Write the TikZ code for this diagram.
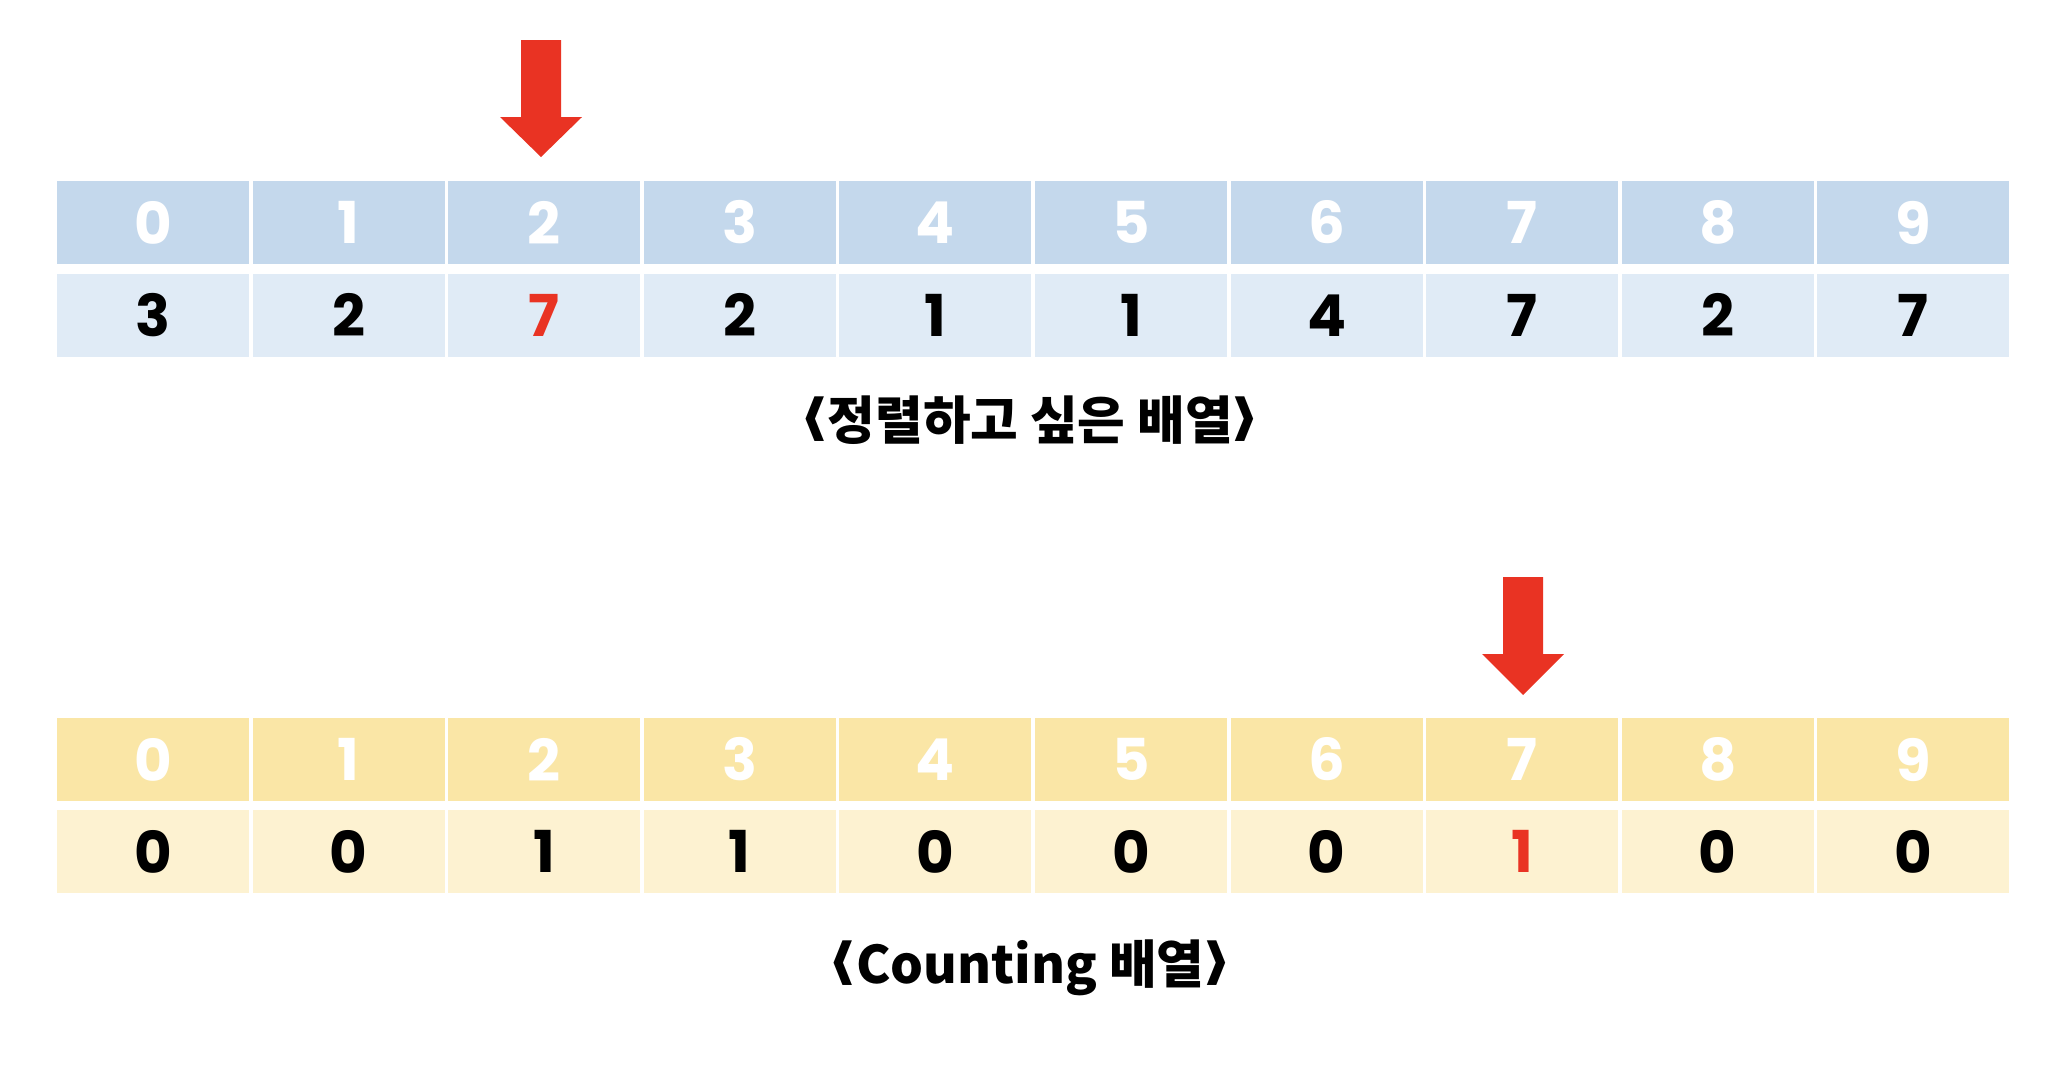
\documentclass[tikz,border=0pt]{standalone}
\usepackage{fontspec}
\setmainfont{Poppins}
\newfontfamily\kr{Noto Sans CJK KR}
\usetikzlibrary{positioning}

\definecolor{headblue}{HTML}{C4D8EC}
\definecolor{cellblue}{HTML}{E0EBF6}
\definecolor{headyellow}{HTML}{FAE6A6}
\definecolor{cellyellow}{HTML}{FDF2D1}
\definecolor{markred}{HTML}{E93323}

\newcommand\lbrk{\raisebox{-0.28em}{\scalebox{0.85}[1.95]{<}}}
\newcommand\rbrk{\raisebox{-0.28em}{\scalebox{0.85}[1.95]{>}}}

\begin{document}
\begin{tikzpicture}[x=0.5bp,y=-0.5bp,
  cell/.style={minimum width=96bp,minimum height=41.5bp,inner sep=0pt,%
    font=\fontsize{29}{29}\selectfont\bfseries},
  head/.style={cell,text=white},
  pointer/.style={fill=markred},
  caption/.style={font=\fontsize{26}{26}\selectfont\bfseries}]
%%
\useasboundingbox (0,0) rectangle (2072,1064);
% array to sort
\foreach \v/\c [count=\i from 0] in {3/black,2/black,7/markred,2/black,1/black,%
    1/black,4/black,7/black,2/black,7/black}{
  \node (h\i) at (153+195.6*\i,222.5) [head,fill=headblue] {\i};
  \node (a\i) at (153+195.6*\i,315.25) [cell,fill=cellblue,text=\c] {\v};
}
\fill [pointer] (521,40) -- (561,40) -- (561,117) -- (582,117) -- (541,157)
  -- (500,117) -- (521,117) -- cycle;
\node (cap1) at (1030,425) [caption] {\lbrk{\kr 정렬하고 싶은 배열}\rbrk};
% counting array
\foreach \v/\c [count=\i from 0] in {0/black,0/black,1/black,1/black,0/black,%
    0/black,0/black,1/markred,0/black,0/black}{
  \node (k\i) at (153+195.6*\i,759.5) [head,fill=headyellow] {\i};
  \node (c\i) at (153+195.6*\i,851.5) [cell,fill=cellyellow,text=\c] {\v};
}
\fill [pointer] (1503,577) -- (1543,577) -- (1543,654) -- (1564,654) -- (1523,695)
  -- (1482,654) -- (1503,654) -- cycle;
\node (cap2) at (1030,969) [caption] {\lbrk{\kr Counting 배열}\rbrk};
%
\end{tikzpicture}
\end{document}
